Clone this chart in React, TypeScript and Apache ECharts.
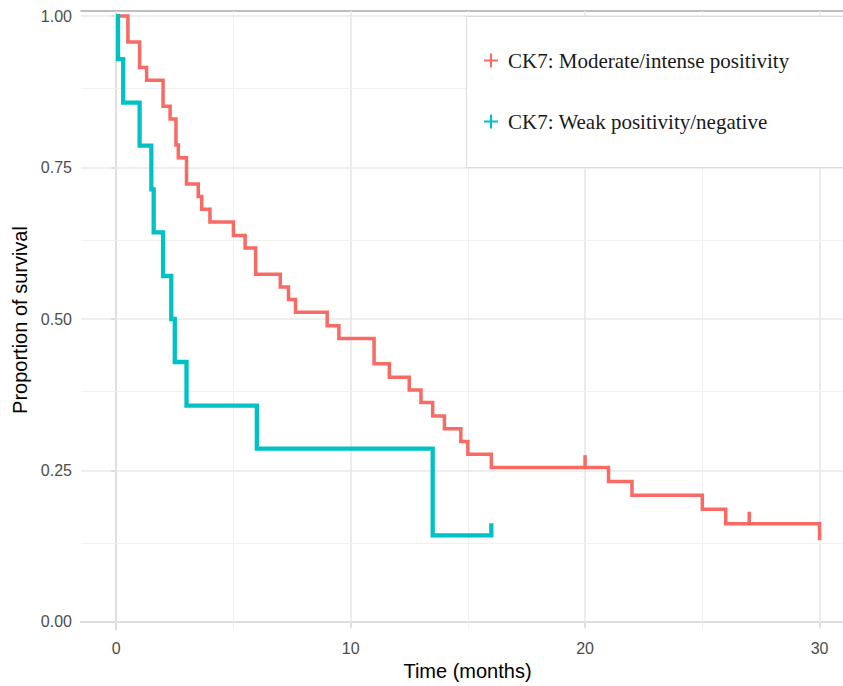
import React, { useEffect, useRef } from "react";
import * as echarts from "echarts";

// ---- data ----
const seriesNames = ["CK7: Moderate/intense positivity", "CK7: Weak positivity/negative"];

const redTimes = [0, 0.5, 1.0, 1.3, 2.0, 2.3, 2.55, 2.65, 3.0, 3.5, 3.65, 4.0, 5.0, 5.5, 5.95, 7.0, 7.35, 7.65, 9.0, 9.5, 11.0, 11.65, 12.5, 13.0, 13.5, 14.0, 14.7, 15.0, 16.0, 21.0, 22.0, 25.0, 26.0, 30.0];
const redSurv = [1.0, 0.957, 0.915, 0.894, 0.851, 0.830, 0.787, 0.766, 0.723, 0.702, 0.681, 0.660, 0.638, 0.617, 0.574, 0.553, 0.532, 0.511, 0.489, 0.468, 0.426, 0.404, 0.383, 0.362, 0.340, 0.319, 0.298, 0.277, 0.255, 0.232, 0.209, 0.186, 0.162, 0.135];
const redCensor = [20, 27];
const redEnd = 30;

const tealTimes = [0, 0.08, 0.3, 1.0, 1.5, 1.6, 2.0, 2.35, 2.5, 3.0, 6.0, 13.5];
const tealSurv = [1.0, 0.929, 0.857, 0.786, 0.714, 0.643, 0.571, 0.5, 0.429, 0.357, 0.286, 0.143];
const tealCensor = [16];
const tealEnd = 16;

const xTicks = [0, 10, 20, 30];
const xMinorGrid = [5, 15, 25];
const yTicks = [0, 0.25, 0.5, 0.75, 1.0];
const yMinorGrid = [0.125, 0.375, 0.625, 0.875];

const X_MIN = -1.5;
const X_MAX = 31.0;
const Y_MIN = -0.0116;
const Y_MAX = 1.0083;
const CENSOR_H = 0.02;

function buildCurve(times: number[], surv: number[], censors: number[], endTime: number) {
  const pts: number[][] = [];
  let cur = surv[0];
  pts.push([times[0], cur]);
  const evs = [
    ...times.slice(1).map((t, i) => ({ t, s: surv[i + 1], c: false })),
    ...censors.map((t) => ({ t, s: 0, c: true })),
  ].sort((a, b) => a.t - b.t);
  let last = times[0];
  for (const e of evs) {
    pts.push([e.t, cur]);
    if (e.c) {
      pts.push([e.t, cur + CENSOR_H]);
      pts.push([e.t, cur]);
    } else {
      cur = e.s;
      pts.push([e.t, cur]);
    }
    last = e.t;
  }
  if (endTime > last) pts.push([endTime, cur]);
  return pts;
}

const RED = "#F96A64";
const TEAL = "#00C1C6";
const AXIS_GRAY = "#a9a9a9";
const LABEL_GRAY = "#4d4d4d";

export default function App() {
  const ref = useRef<HTMLDivElement>(null);
  useEffect(() => {
    document.body.style.margin = "0";
    if (!ref.current) return;
    const chart = echarts.init(ref.current, undefined, { renderer: "svg" });
    const plus = "path://M6,0H8V6H14V8H8V14H6V8H0V6H6Z";
    const gridLines = [
      ...xTicks.map((v) => ({ xAxis: v, lineStyle: { color: "#e8e8e8", width: 1.6 } })),
      ...xMinorGrid.map((v) => ({ xAxis: v, lineStyle: { color: "#f0f0f0", width: 1 } })),
      ...yTicks.map((v) => ({ yAxis: v, lineStyle: { color: "#e8e8e8", width: 1.6 } })),
      ...yMinorGrid.map((v) => ({ yAxis: v, lineStyle: { color: "#f0f0f0", width: 1 } })),
    ];
    chart.setOption({
      animation: false,
      backgroundColor: "#ffffff",
      grid: { left: 81, top: 11, width: 762, height: 618, containLabel: false },
      graphic: [
        {
          type: "rect",
          z: 10,
          shape: { x: 466.5, y: 16.5, width: 420, height: 151 },
          style: { fill: "#ffffff", stroke: "#dcdcdc", lineWidth: 1 },
          silent: true,
        },
      ],
      xAxis: [
        {
          type: "value",
          min: X_MIN,
          max: X_MAX,
          position: "bottom",
          name: "Time (months)",
          nameLocation: "middle",
          nameGap: 32,
          nameTextStyle: { color: "#000", fontSize: 20, fontFamily: "Liberation Sans", padding: [0, 0, 0, 11] },
          axisLine: { show: true, lineStyle: { color: AXIS_GRAY, width: 1.5 } },
          axisTick: { show: true, length: 5, customValues: xTicks, lineStyle: { color: AXIS_GRAY, width: 1.5 } },
          axisLabel: {
            show: true,
            customValues: xTicks,
            margin: 11,
            color: LABEL_GRAY,
            fontSize: 16,
            fontFamily: "Liberation Sans",
          },
          splitLine: { show: false },
        },
        {
          type: "value",
          min: X_MIN,
          max: X_MAX,
          position: "top",
          axisLine: { show: true, lineStyle: { color: AXIS_GRAY, width: 1.5 } },
          axisTick: { show: false },
          axisLabel: { show: false },
          splitLine: { show: false },
        },
      ],
      yAxis: {
        type: "value",
        min: Y_MIN,
        max: Y_MAX,
        name: "Proportion of survival",
        nameLocation: "middle",
        nameGap: 40,
        nameTextStyle: { color: "#000", fontSize: 20, fontFamily: "Liberation Sans" },
        axisLine: { show: true, lineStyle: { color: AXIS_GRAY, width: 1.5 } },
        axisTick: { show: true, length: 5, customValues: yTicks, lineStyle: { color: AXIS_GRAY, width: 1.5 } },
        axisLabel: {
          show: true,
          customValues: yTicks,
          margin: 9,
          color: LABEL_GRAY,
          fontSize: 16,
          fontFamily: "Liberation Sans",
          formatter: (v: number) => v.toFixed(2),
        },
        splitLine: { show: false },
      },
      legend: {
        data: seriesNames,
        orient: "vertical",
        left: 466,
        top: 16,
        z: 20,
        backgroundColor: "transparent",
        borderWidth: 0,
        padding: [34, 10, 34, 18],
        itemGap: 40,
        itemWidth: 14,
        itemHeight: 14,
        icon: plus,
        textStyle: {
          color: "#1a1a1a",
          fontSize: 21,
          fontFamily: "Liberation Serif",
          padding: [0, 0, 0, 5],
        },
        selectedMode: false,
      },
      series: [
        {
          name: "_grid",
          type: "line",
          data: [],
          silent: true,
          z: 1,
          markLine: {
            silent: true,
            symbol: "none",
            z: 1,
            label: { show: false },
            lineStyle: { type: "solid" },
            data: gridLines,
          },
        },
        {
          name: seriesNames[0],
          type: "line",
          data: buildCurve(redTimes, redSurv, redCensor, redEnd),
          showSymbol: false,
          symbol: "none",
          color: RED,
          itemStyle: { color: RED },
          lineStyle: { color: RED, width: 3.5, join: "miter", cap: "butt" },
          z: 3,
        },
        {
          name: seriesNames[1],
          type: "line",
          data: buildCurve(tealTimes, tealSurv, tealCensor, tealEnd),
          showSymbol: false,
          symbol: "none",
          color: TEAL,
          itemStyle: { color: TEAL },
          lineStyle: { color: TEAL, width: 4.3, join: "miter", cap: "butt" },
          z: 4,
        },
      ],
    });
    return () => chart.dispose();
  }, []);
  return <div ref={ref} style={{ width: 843, height: 686 }} />;
}
